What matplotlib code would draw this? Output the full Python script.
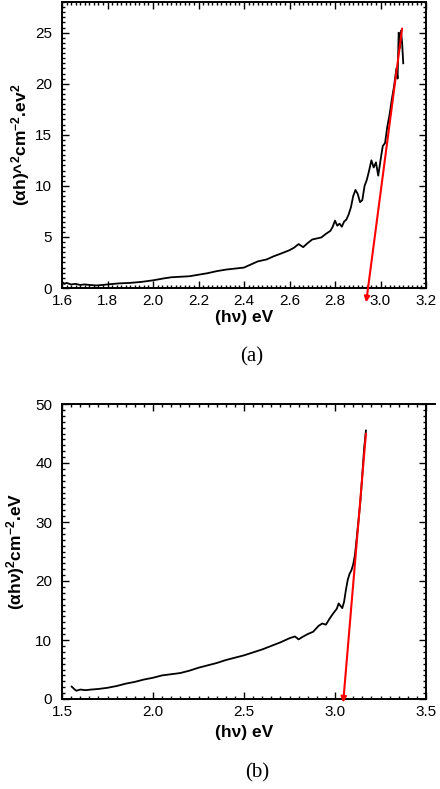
import matplotlib
matplotlib.use("Agg")
import matplotlib.pyplot as plt
from matplotlib.ticker import MultipleLocator

plt.rcParams['font.family'] = ['Liberation Sans', 'DejaVu Sans']
plt.rcParams['mathtext.fontset'] = 'custom'
plt.rcParams['mathtext.bf'] = 'Liberation Sans:bold'
plt.rcParams['mathtext.rm'] = 'Liberation Sans:bold'
plt.rcParams['mathtext.default'] = 'bf'

# Panel (a) data
hv_a = [1.60, 1.61, 1.62, 1.64, 1.66, 1.68, 1.70, 1.72, 1.75, 1.78, 1.80, 1.85,
        1.90, 1.95, 2.00, 2.05, 2.08, 2.12, 2.16, 2.20, 2.24, 2.28, 2.32, 2.36,
        2.40, 2.43, 2.46, 2.50, 2.53, 2.56, 2.60, 2.62, 2.64, 2.66, 2.68, 2.70,
        2.72, 2.74, 2.76, 2.78, 2.79, 2.80, 2.81, 2.82, 2.83, 2.84, 2.85, 2.86,
        2.87, 2.88, 2.89, 2.90, 2.91, 2.92, 2.93, 2.94, 2.95, 2.96, 2.97, 2.98,
        2.99, 3.00, 3.01, 3.02, 3.03, 3.04, 3.05, 3.06, 3.07, 3.075, 3.08, 3.085,
        3.09, 3.095, 3.10]
alpha_a = [0.6, 0.4, 0.5, 0.35, 0.4, 0.3, 0.35, 0.3, 0.25, 0.3, 0.35, 0.45,
           0.5, 0.6, 0.75, 0.95, 1.05, 1.1, 1.15, 1.3, 1.45, 1.65, 1.8, 1.9,
           2.0, 2.3, 2.6, 2.8, 3.1, 3.35, 3.7, 3.95, 4.3, 4.0, 4.4, 4.75,
           4.85, 4.95, 5.3, 5.6, 6.0, 6.6, 6.1, 6.3, 6.0, 6.5, 6.7, 7.2,
           7.9, 9.0, 9.6, 9.2, 8.4, 8.6, 10.0, 10.6, 11.5, 12.5, 11.8, 12.3,
           11.0, 12.5, 13.9, 14.2, 15.8, 17.0, 18.5, 19.8, 21.5, 20.5, 25.0, 23.5,
           25.2, 24.0, 22.0]
fit_a_x = [3.095, 2.937]
fit_a_y = [25.4, -1.4]

# Panel (b) data
hv_b = [1.553, 1.56, 1.57, 1.58, 1.60, 1.63, 1.66, 1.70, 1.75, 1.80, 1.85, 1.90,
        1.95, 2.00, 2.05, 2.10, 2.15, 2.20, 2.25, 2.30, 2.35, 2.40, 2.45, 2.50,
        2.55, 2.60, 2.65, 2.70, 2.75, 2.78, 2.80, 2.82, 2.85, 2.88, 2.91, 2.93,
        2.95, 2.97, 2.99, 3.01, 3.02, 3.03, 3.04, 3.05, 3.06, 3.07, 3.08, 3.09,
        3.10, 3.11, 3.12, 3.13, 3.14, 3.15, 3.16, 3.17]
alpha_b = [2.1, 1.9, 1.6, 1.4, 1.6, 1.5, 1.6, 1.7, 1.9, 2.2, 2.6, 2.9,
           3.3, 3.6, 4.0, 4.2, 4.4, 4.8, 5.3, 5.7, 6.1, 6.6, 7.0, 7.4,
           7.9, 8.4, 9.0, 9.6, 10.3, 10.6, 10.1, 10.5, 11.0, 11.4, 12.4, 12.8,
           12.6, 13.6, 14.5, 15.3, 16.2, 15.8, 15.4, 16.5, 18.5, 20.2, 21.2, 21.8,
           22.8, 24.5, 27.5, 30.5, 33.7, 38.0, 42.5, 45.5]
fit_b_x = [3.17, 3.045]
fit_b_y = [45.0, -0.6]

fig = plt.figure(figsize=(4.4, 7.89), dpi=100)
ax1 = fig.add_axes([62 / 440, 1 - 288 / 789, 364 / 440, 286 / 789])
ax2 = fig.add_axes([62 / 440, 1 - 699 / 789, 364 / 440, 295 / 789])


def style(ax):
    for s in ax.spines.values():
        s.set_linewidth(1.4)
    ax.tick_params(which='both', direction='in', top=True, right=True,
                   labelsize=11, width=1.0)
    ax.tick_params(which='major', length=5)
    ax.tick_params(which='minor', length=2.5)
    ax.tick_params(axis='x', pad=4)
    ax.tick_params(axis='y', pad=7)


# (a)
ax1.plot(hv_a, alpha_a, color='black', lw=1.3)
ax1.annotate('', xy=(fit_a_x[1], fit_a_y[1]), xytext=(fit_a_x[0], fit_a_y[0]),
             arrowprops=dict(arrowstyle='-|>', color='red', lw=1.5,
                             mutation_scale=8, shrinkA=0, shrinkB=0),
             annotation_clip=False)
ax1.set_xlim(1.6, 3.2)
ax1.set_ylim(0, 28)
ax1.xaxis.set_major_locator(MultipleLocator(0.2))
ax1.xaxis.set_minor_locator(MultipleLocator(0.02))
ax1.yaxis.set_major_locator(MultipleLocator(5))
ax1.yaxis.set_minor_locator(MultipleLocator(0.5))
ax1.xaxis.set_major_formatter(plt.FormatStrFormatter('%.1f'))
style(ax1)
ax1.set_xlabel('(hν) eV', fontsize=12.5, fontweight='bold', labelpad=2)
ax1.set_ylabel(r'(αh)^$^2$cm$^{-2}$.ev$^2$', fontsize=12.5, fontweight='bold',
               labelpad=2)
fig.text(0.573, 1 - 357 / 789, '(a)', family='Liberation Serif', fontsize=15,
         ha='center', va='center')

# (b)
ax2.plot(hv_b, alpha_b, color='black', lw=1.3)
ax2.annotate('', xy=(fit_b_x[1], fit_b_y[1]), xytext=(fit_b_x[0], fit_b_y[0]),
             arrowprops=dict(arrowstyle='-|>', color='red', lw=1.5,
                             mutation_scale=8, shrinkA=0, shrinkB=0),
             annotation_clip=False)
ax2.set_xlim(1.5, 3.5)
ax2.set_ylim(0, 50)
ax2.xaxis.set_major_locator(MultipleLocator(0.5))
ax2.xaxis.set_minor_locator(MultipleLocator(0.05))
ax2.yaxis.set_major_locator(MultipleLocator(10))
ax2.yaxis.set_minor_locator(MultipleLocator(1))
ax2.xaxis.set_major_formatter(plt.FormatStrFormatter('%.1f'))
style(ax2)
# top frame line runs a little past the right edge
ax2.plot([1, 1.025], [1, 1], transform=ax2.transAxes, color='black', lw=1.4,
         clip_on=False)
ax2.set_xlabel('(hν) eV', fontsize=12.5, fontweight='bold', labelpad=5)
ax2.set_ylabel(r'(αhν)$^2$cm$^{-2}$.eV', fontsize=12.5, fontweight='bold',
               labelpad=6)
fig.text(0.584, 1 - 773 / 789, '(b)', family='Liberation Serif', fontsize=15,
         ha='center', va='center')

plt.savefig('out.png', dpi=100)
